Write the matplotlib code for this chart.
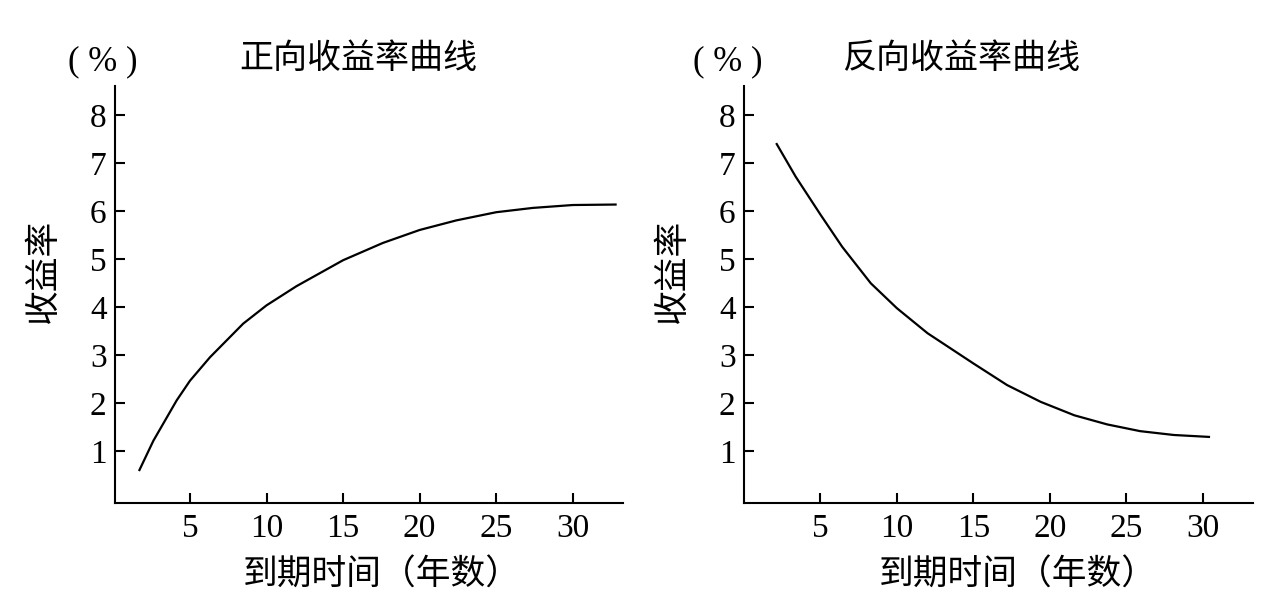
import matplotlib
matplotlib.use("Agg")
import matplotlib.pyplot as plt

# values
years_normal = [1.70, 2.61, 4.13, 5.0, 6.31, 8.48, 10.0, 11.96, 15.0, 17.6, 20.0, 22.4, 25.0, 27.4, 30.0, 32.8]
yield_normal = [0.60, 1.21, 2.05, 2.46, 2.95, 3.65, 4.03, 4.43, 4.97, 5.33, 5.60, 5.80, 5.97, 6.06, 6.12, 6.13]

years_inverted = [2.14, 3.38, 5.0, 6.42, 8.29, 10.0, 12.0, 15.0, 17.2, 19.4, 21.6, 23.75, 25.9, 28.1, 30.4]
yield_inverted = [7.39, 6.71, 5.92, 5.25, 4.49, 3.97, 3.45, 2.82, 2.37, 2.02, 1.74, 1.55, 1.41, 1.33, 1.29]

x_ticks = [5, 10, 15, 20, 25, 30]
y_ticks = [1, 2, 3, 4, 5, 6, 7, 8]

titles = ["正向收益率曲线", "反向收益率曲线"]
x_label = "到期时间（年数）"
y_label = "收益率"
unit_label = "( % )"

CJK = ["Noto Sans CJK SC", "DejaVu Sans"]
SERIF = "Liberation Serif"


def draw_panel(ax, xs, ys, title, xlim, title_x, unit_x, label_x):
    ax.plot(xs, ys, color="black", linewidth=1.6, solid_joinstyle="round")
    ax.set_xlim(*xlim)
    ax.set_ylim(-0.08, 8.6)
    ax.set_xticks(x_ticks)
    ax.set_yticks(y_ticks)

    for side in ["top", "right"]:
        ax.spines[side].set_visible(False)
    for side in ["left", "bottom"]:
        ax.spines[side].set_linewidth(1.5)

    ax.tick_params(axis="both", direction="in", length=7.5, width=1.5,
                   labelsize=24)
    ax.tick_params(axis="y", pad=6)
    ax.tick_params(axis="x", pad=8)
    for lab in ax.get_xticklabels() + ax.get_yticklabels():
        lab.set_fontfamily(SERIF)

    ax.text(title_x, 1.067, title, transform=ax.transAxes, ha="center",
            va="center", fontsize=24.5, family=CJK)
    ax.text(unit_x, 1.058, unit_label, transform=ax.transAxes, ha="center",
            va="center", fontsize=25, family=SERIF)
    ax.text(-0.14, 0.556, y_label, transform=ax.transAxes, ha="center",
            va="center", rotation=90, fontsize=25, family=CJK)
    ax.text(label_x, -0.174, x_label, transform=ax.transAxes, ha="center",
            va="center", fontsize=25, family=CJK)


fig = plt.figure(figsize=(12.8, 6.14), dpi=100)
ax_left = fig.add_axes([0.0898, 0.1813, 0.3971, 0.6787])
ax_right = fig.add_axes([0.58125, 0.1813, 0.3979, 0.6787])

draw_panel(ax_left, years_normal, yield_normal, titles[0],
           (0.1, 33.3), 0.478, -0.024, 0.525)
draw_panel(ax_right, years_inverted, yield_inverted, titles[1],
           (0.0, 33.3), 0.427, -0.031, 0.538)

fig.savefig("out.png", dpi=100)
plt.close(fig)
